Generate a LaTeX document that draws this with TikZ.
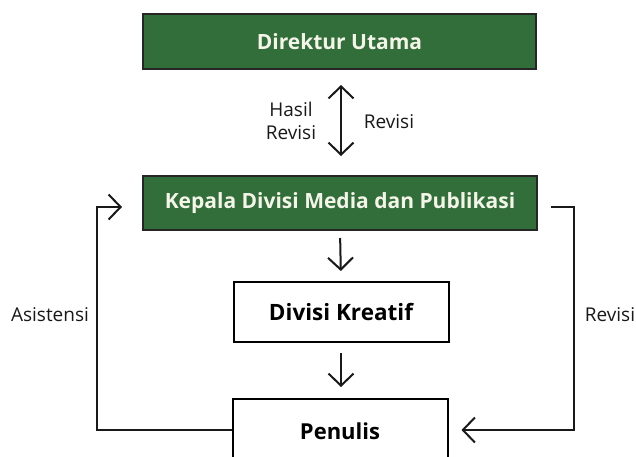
\documentclass[tikz,border=0pt]{standalone}
\usepackage{fontspec}
\setmainfont{Open Sans}
\usetikzlibrary{arrows.meta}
\definecolor{boxgreen}{RGB}{50,110,58}
\definecolor{cream}{RGB}{244,244,232}
\tikzset{
  x=1pt, y=-1pt,
  greenbox/.style={draw=black!85, line width=2pt, fill=boxgreen, text=cream,
    font=\fontsize{21}{25}\selectfont\bfseries, minimum width=393pt, minimum height=55pt,
    inner sep=0pt},
  whitebox/.style={draw=black, line width=2pt, fill=white, text=black,
    font=\fontsize{22.5}{26}\selectfont\bfseries, minimum width=215pt, minimum height=60pt,
    inner sep=0pt},
  conn/.style={line width=2pt, draw=black!90},
  arr/.style={conn, -{Straight Barb[length=12pt,width=25pt,line width=2pt]}},
  darr/.style={conn, {Straight Barb[length=12pt,width=25pt,line width=2pt]}-{Straight Barb[length=12pt,width=25pt,line width=2pt]}},
  lbl/.style={font=\fontsize{19}{23}\selectfont, text=black!90, inner sep=0pt, align=center},
}
\begin{document}
\begin{tikzpicture}
\useasboundingbox[fill=white] (0,0) rectangle (636,456);
\node[greenbox] (dir) at (339.5,41.5) {Direktur Utama};
\node[greenbox, minimum width=394pt, minimum height=54pt] (kep) at (340,203) {Kepala Divisi Media dan Publikasi};
\node[whitebox] (kre) at (341,312) {Divisi Kreatif};
\node[whitebox, minimum height=64pt, font=\fontsize{22}{26}\selectfont\bfseries] (pen) at (340,431) {Penulis};
\node[lbl] (hasil) at (291,121) {Hasil\\Revisi};
\node[lbl] (rev1) at (389,122) {Revisi};
\node[lbl] (asis) at (50,315) {Asistensi};
\node[lbl] (rev2) at (610,315) {Revisi};
\draw[darr, shorten <=15pt, shorten >=19pt] ([xshift=1.5pt]dir.south) -- ([xshift=1pt]kep.north);
\draw[arr, shorten <=7pt, shorten >=10pt] (kep.south) -- (kre.north);
\draw[arr, shorten <=10pt, shorten >=11pt] (kre.south) -- (kre.south |- pen.north);
\draw[arr, shorten >=20pt] ([yshift=1pt]pen.west) -- ++(-135,0) |- ([yshift=-4pt]kep.west);
\draw[arr, shorten <=13pt, shorten >=13pt] ([yshift=-4pt]kep.east) -- ++(36,0) |- ([yshift=1pt]pen.east);
\end{tikzpicture}
\end{document}
